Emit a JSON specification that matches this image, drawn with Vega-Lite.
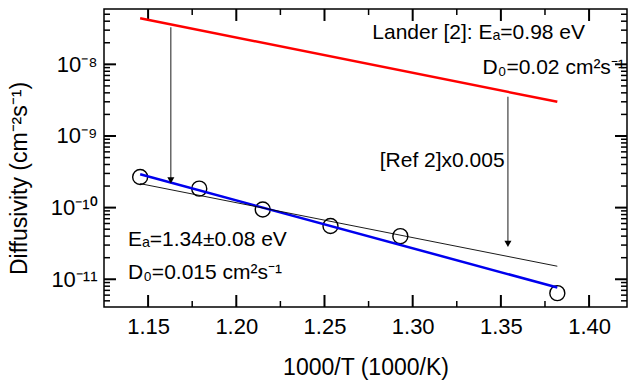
{
  "$schema": "https://vega.github.io/schema/vega-lite/v6.json",
  "width": 523,
  "height": 298,
  "autosize": "none",
  "padding": {"left": 104, "top": 9, "right": 4, "bottom": 75},
  "background": "white",
  "config": {
    "view": {"stroke": "black", "strokeWidth": 1.5},
    "font": "Liberation Sans",
    "axis": {
      "grid": false,
      "domain": false,
      "ticks": false,
      "labelColor": "black",
      "titleColor": "black",
      "labelFont": "Liberation Sans",
      "titleFont": "Liberation Sans",
      "labelFontSize": 22,
      "titleFontSize": 23,
      "titleFontWeight": "normal"
    }
  },
  "datasets": {
    "pts": [
      {"x": 1.1455, "y": 2.67e-10},
      {"x": 1.179, "y": 1.84e-10},
      {"x": 1.215, "y": 9.4e-11},
      {"x": 1.2534, "y": 5.53e-11},
      {"x": 1.293, "y": 4.0e-11},
      {"x": 1.382, "y": 6.4e-12}
    ],
    "blue": [{"x": 1.1455, "y": 2.92e-10}, {"x": 1.382, "y": 7.66e-12}],
    "thin": [{"x": 1.1455, "y": 2.16e-10}, {"x": 1.382, "y": 1.52e-11}],
    "red": [{"x": 1.1455, "y": 4.39e-8}, {"x": 1.382, "y": 3.0e-9}],
    "arrows": [
      {"x": 1.1629, "y": 3.29e-8, "y2": 2.4e-10, "yh": 2.4e-10},
      {"x": 1.354, "y": 3.53e-9, "y2": 3.12e-11, "yh": 3.12e-11}
    ],
    "labels": [
      {"x": 1.2771, "y": 2.73e-8, "t": "Lander [2]: Eₐ=0.98 eV"},
      {"x": 1.3396, "y": 8.8e-9, "t": "D₀=0.02 cm²s⁻¹"},
      {"x": 1.2813, "y": 4.48e-10, "t": "[Ref 2]x0.005"},
      {"x": 1.1386, "y": 3.49e-11, "t": "Eₐ=1.34±0.08 eV"},
      {"x": 1.1386, "y": 1.21e-11, "t": "D₀=0.015 cm²s⁻¹"}
    ],
    "xmajor": [{"v": 1.15}, {"v": 1.2}, {"v": 1.25}, {"v": 1.3}, {"v": 1.35}, {"v": 1.4}],
    "xminor": [{"v": 1.175}, {"v": 1.225}, {"v": 1.275}, {"v": 1.325}, {"v": 1.375}],
    "ymajor": [{"v": 1e-11}, {"v": 1e-10}, {"v": 1e-9}, {"v": 1e-8}],
    "yminor": [{"v": 5e-12}, {"v": 6e-12}, {"v": 7e-12}, {"v": 8e-12}, {"v": 9e-12}, {"v": 2e-11}, {"v": 3e-11}, {"v": 4e-11}, {"v": 5e-11}, {"v": 6e-11}, {"v": 7e-11}, {"v": 8e-11}, {"v": 9e-11}, {"v": 2e-10}, {"v": 3e-10}, {"v": 4e-10}, {"v": 5e-10}, {"v": 6e-10}, {"v": 7e-10}, {"v": 8e-10}, {"v": 9e-10}, {"v": 2e-9}, {"v": 3e-9}, {"v": 4e-9}, {"v": 5e-9}, {"v": 6e-9}, {"v": 7e-9}, {"v": 8e-9}, {"v": 9e-9}, {"v": 2e-8}, {"v": 3e-8}, {"v": 4e-8}, {"v": 5e-8}]
  },
  "resolve": {"axis": {"x": "independent", "y": "independent"}},
  "layer": [
    {
      "data": {"name": "xmajor"},
      "mark": {"type": "rule", "color": "black", "strokeWidth": 2},
      "encoding": {
        "x": {"field": "v", "type": "quantitative", "scale": {"domain": [1.125, 1.4215], "nice": false, "zero": false},
          "axis": {"orient": "bottom", "values": [1.15, 1.2, 1.25, 1.3, 1.35, 1.4], "format": ".2f", "labelPadding": 9, "title": "1000/T (1000/K)", "titlePadding": 19}},
        "y": {"datum": 4.1e-12, "type": "quantitative", "scale": {"type": "log", "domain": [4.1e-12, 5.92e-8], "nice": false},
          "axis": {"orient": "left", "values": [1e-11, 1e-10, 1e-9, 1e-8], "labelExpr": "datum.value < 5e-11 ? '10⁻¹¹' : datum.value < 5e-10 ? '10⁻¹⁰' : datum.value < 5e-9 ? '10⁻⁹' : '10⁻⁸'", "labelPadding": 7, "title": "Diffusivity (cm⁻²s⁻¹)", "titlePadding": 19, "titleY": 169}},
        "y2": {"datum": 6.03e-12}
      }
    },
    {
      "data": {"name": "xmajor"},
      "mark": {"type": "rule", "color": "black", "strokeWidth": 2},
      "encoding": {
        "x": {"field": "v", "type": "quantitative", "axis": null},
        "y": {"datum": 5.92e-8, "type": "quantitative", "axis": null},
        "y2": {"datum": 4.03e-8}
      }
    },
    {
      "data": {"name": "xminor"},
      "mark": {"type": "rule", "color": "black", "strokeWidth": 1.5},
      "encoding": {
        "x": {"field": "v", "type": "quantitative", "axis": null},
        "y": {"datum": 4.1e-12, "type": "quantitative", "axis": null},
        "y2": {"datum": 4.97e-12}
      }
    },
    {
      "data": {"name": "xminor"},
      "mark": {"type": "rule", "color": "black", "strokeWidth": 1.5},
      "encoding": {
        "x": {"field": "v", "type": "quantitative", "axis": null},
        "y": {"datum": 5.92e-8, "type": "quantitative", "axis": null},
        "y2": {"datum": 4.88e-8}
      }
    },
    {
      "data": {"name": "ymajor"},
      "mark": {"type": "rule", "color": "black", "strokeWidth": 2},
      "encoding": {
        "y": {"field": "v", "type": "quantitative", "axis": null},
        "x": {"datum": 1.125, "type": "quantitative", "axis": null},
        "x2": {"datum": 1.1318}
      }
    },
    {
      "data": {"name": "ymajor"},
      "mark": {"type": "rule", "color": "black", "strokeWidth": 2},
      "encoding": {
        "y": {"field": "v", "type": "quantitative", "axis": null},
        "x": {"datum": 1.4215, "type": "quantitative", "axis": null},
        "x2": {"datum": 1.4147}
      }
    },
    {
      "data": {"name": "yminor"},
      "mark": {"type": "rule", "color": "black", "strokeWidth": 1.5},
      "encoding": {
        "y": {"field": "v", "type": "quantitative", "axis": null},
        "x": {"datum": 1.125, "type": "quantitative", "axis": null},
        "x2": {"datum": 1.1284}
      }
    },
    {
      "data": {"name": "yminor"},
      "mark": {"type": "rule", "color": "black", "strokeWidth": 1.5},
      "encoding": {
        "y": {"field": "v", "type": "quantitative", "axis": null},
        "x": {"datum": 1.4215, "type": "quantitative", "axis": null},
        "x2": {"datum": 1.4181}
      }
    },
    {
      "data": {"name": "pts"},
      "mark": {"type": "point", "shape": "circle", "filled": false, "stroke": "black", "strokeWidth": 1.4, "size": 225, "opacity": 1},
      "encoding": {
        "x": {"field": "x", "type": "quantitative", "axis": null},
        "y": {"field": "y", "type": "quantitative", "axis": null}
      }
    },
    {
      "data": {"name": "blue"},
      "mark": {"type": "line", "color": "#0000ee", "strokeWidth": 2.5},
      "encoding": {
        "x": {"field": "x", "type": "quantitative", "axis": null},
        "y": {"field": "y", "type": "quantitative", "axis": null}
      }
    },
    {
      "data": {"name": "red"},
      "mark": {"type": "line", "color": "#ff0000", "strokeWidth": 2.5},
      "encoding": {
        "x": {"field": "x", "type": "quantitative", "axis": null},
        "y": {"field": "y", "type": "quantitative", "axis": null}
      }
    },
    {
      "data": {"name": "thin"},
      "mark": {"type": "line", "color": "black", "strokeWidth": 0.9},
      "encoding": {
        "x": {"field": "x", "type": "quantitative", "axis": null},
        "y": {"field": "y", "type": "quantitative", "axis": null}
      }
    },
    {
      "data": {"name": "arrows"},
      "mark": {"type": "rule", "color": "black", "strokeWidth": 0.9},
      "encoding": {
        "x": {"field": "x", "type": "quantitative", "axis": null},
        "y": {"field": "y", "type": "quantitative", "axis": null},
        "y2": {"field": "y2"}
      }
    },
    {
      "data": {"name": "arrows"},
      "mark": {"type": "point", "shape": "triangle-down", "filled": true, "color": "black", "size": 50, "opacity": 1},
      "encoding": {
        "x": {"field": "x", "type": "quantitative", "axis": null},
        "y": {"field": "yh", "type": "quantitative", "axis": null}
      }
    },
    {
      "data": {"name": "labels"},
      "mark": {"type": "text", "align": "left", "baseline": "middle", "fontSize": 21, "font": "Liberation Sans", "color": "black"},
      "encoding": {
        "x": {"field": "x", "type": "quantitative", "axis": null},
        "y": {"field": "y", "type": "quantitative", "axis": null},
        "text": {"field": "t"}
      }
    }
  ]
}
